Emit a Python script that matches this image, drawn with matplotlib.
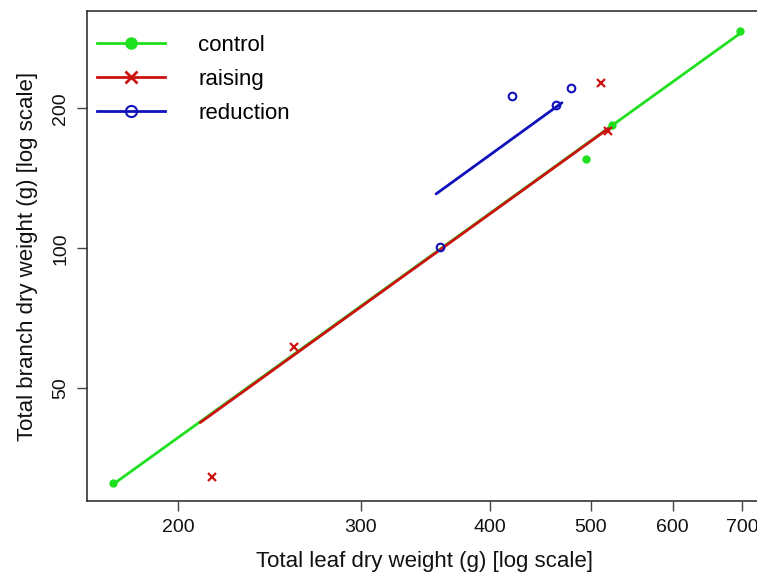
import matplotlib
matplotlib.use("Agg")
import matplotlib.pyplot as plt
from matplotlib.ticker import FixedLocator, FixedFormatter, NullLocator
from matplotlib.lines import Line2D

plt.rcParams['font.family'] = ['Liberation Sans', 'DejaVu Sans']

# --- data ---
control_x = [173.0, 495.0, 524.0, 697.0]
control_y = [31.3, 155.4, 184.1, 293.7]
raising_x = [215.8, 258.9, 511.8, 519.9]
raising_y = [32.3, 61.4, 226.4, 178.7]
reduction_x = [357.9, 420.3, 463.1, 478.8]
reduction_y = [100.7, 212.6, 203.3, 221.5]

# fitted lines (endpoints, log-log)
control_fit_x = [173.2, 700.0]
control_fit_y = [31.1, 291.8]
raising_fit_x = [210.1, 522.1]
raising_fit_y = [42.2, 182.0]
reduction_fit_x = [354.8, 469.3]
reduction_fit_y = [130.9, 205.6]

xticks = [200, 300, 400, 500, 600, 700]
yticks = [50, 100, 200]

GREEN = '#1EE01E'
RED = '#CC1111'
BLUE = '#1111BB'

W, H = 757, 574
fig = plt.figure(figsize=(W / 100, H / 100), dpi=100)
left, right, bottom, top = 87.3, 762, 501, 11
ax = fig.add_axes([left / W, 1 - bottom / H, (right - left) / W, (bottom - top) / H])
ax.set_xscale('log')
ax.set_yscale('log')
ax.set_xlim(163.5, 731.8)
ax.set_ylim(28.62, 323.8)

ax.plot(control_fit_x, control_fit_y, color=GREEN, lw=2, solid_capstyle='round')
ax.plot(raising_fit_x, raising_fit_y, color=RED, lw=2, solid_capstyle='round')
ax.plot(reduction_fit_x, reduction_fit_y, color=BLUE, lw=2, solid_capstyle='round')

ax.plot(control_x, control_y, 'o', color=GREEN, ms=5, ls='none')
ax.plot(raising_x, raising_y, 'x', color=RED, ms=6, mew=1.6, ls='none')
ax.plot(reduction_x, reduction_y, 'o', mfc='none', mec=BLUE, ms=5.5, mew=1.5, ls='none')

ax.xaxis.set_major_locator(FixedLocator(xticks))
ax.xaxis.set_major_formatter(FixedFormatter([str(t) for t in xticks]))
ax.xaxis.set_minor_locator(NullLocator())
ax.yaxis.set_major_locator(FixedLocator(yticks))
ax.yaxis.set_major_formatter(FixedFormatter([str(t) for t in yticks]))
ax.yaxis.set_minor_locator(NullLocator())

for name, s in ax.spines.items():
    s.set_color('#333333')
    s.set_linewidth(1.2)
ax.spines['right'].set_visible(False)

ax.tick_params(axis='both', direction='out', length=7, width=1, color='#444444',
               labelsize=14, labelcolor='#111111', pad=6)
for lab in ax.get_yticklabels():
    lab.set_rotation(90)
    lab.set_va('center')

ax.set_xlabel('Total leaf dry weight (g) [log scale]', fontsize=16, color='#111111', labelpad=10.5)
ax.set_ylabel('Total branch dry weight (g) [log scale]', fontsize=16, color='#111111', labelpad=10)

handles = [
    Line2D([], [], color=GREEN, lw=2, marker='o', ms=8),
    Line2D([], [], color=RED, lw=2, marker='x', ms=8, mew=2),
    Line2D([], [], color=BLUE, lw=2, marker='o', ms=8, mfc='none', mew=1.5),
]
leg = ax.legend(handles, ['control', 'raising', 'reduction'], loc='upper left',
                bbox_to_anchor=(0.0144, 0.951), frameon=False, fontsize=16,
                handlelength=3.06, handletextpad=1.49, labelspacing=0.58,
                borderaxespad=0, borderpad=0)

fig.savefig('out.png', dpi=100)
